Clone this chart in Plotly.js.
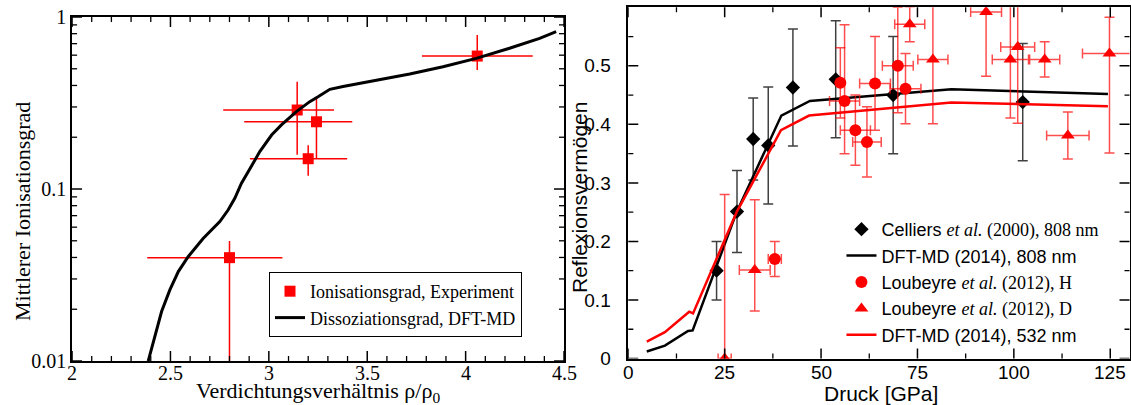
<!DOCTYPE html>
<html>
<head>
<meta charset="utf-8">
<script src="https://cdn.plot.ly/plotly-3.0.1.min.js"></script>
<style>html,body{margin:0;padding:0;background:#fff;}#chart{width:1131px;height:405px;}</style>
</head>
<body>
<div id="chart"></div>
<script>
// ---------- Left panel: ionisation / dissociation degree ----------
const ionX      = [2.80, 3.144, 3.200, 3.242, 4.059];
const ionY      = [0.0399, 0.288, 0.150, 0.246, 0.593];
const ionXMinus = [0.418, 0.376, 0.296, 0.367, 0.281];
const ionXPlus  = [0.269, 0.187, 0.198, 0.182, 0.282];
const ionYPlus  = [0.0100, 0.133, 0.0295, 0.098, 0.192];
const ionYMinus = [0.0396, 0.130, 0.0305, 0.095, 0.101];

const dissX = [2.387, 2.43, 2.455, 2.497, 2.54, 2.59, 2.666, 2.751, 2.793, 2.827, 2.861, 2.895, 2.954, 3.014, 3.064, 3.14, 3.208, 3.25, 3.31, 3.377, 3.513, 3.716, 3.885, 4.054, 4.223, 4.376, 4.46];
const dissY = [0.0100, 0.0155, 0.0194, 0.0259, 0.0331, 0.0404, 0.0516, 0.0646, 0.0755, 0.0883, 0.108, 0.126, 0.165, 0.206, 0.236, 0.282, 0.322, 0.344, 0.380, 0.394, 0.421, 0.466, 0.514, 0.575, 0.658, 0.752, 0.822];

// tick positions / labels (left panel)
const leftXTicks      = [2, 2.5, 3, 3.5, 4, 4.5];
const leftXTickText   = ['2', '2.5', '3', '3.5', '4', '4.5'];
const leftXMinorTicks = [2.1, 2.2, 2.3, 2.4, 2.6, 2.7, 2.8, 2.9, 3.1, 3.2, 3.3, 3.4, 3.6, 3.7, 3.8, 3.9, 4.1, 4.2, 4.3, 4.4];
const leftYTicks      = [0.01, 0.1, 1];
const leftYTickText   = ['0.01', '0.1', '1'];
const leftYMinorTicks = [0.02, 0.03, 0.04, 0.05, 0.06, 0.07, 0.08, 0.09, 0.2, 0.3, 0.4, 0.5, 0.6, 0.7, 0.8, 0.9];

// ---------- Right panel: reflectivity ----------
const cellP     = [22.9, 28.2, 32.4, 36.3, 42.7, 53.8, 68.7, 102.3];
const cellR     = [0.150, 0.251, 0.375, 0.364, 0.463, 0.477, 0.450, 0.438];
const cellRErr  = [0.05, 0.07, 0.07, 0.10, 0.10, 0.10, 0.10, 0.10];

const dft808P = [4.8, 9.5, 15.5, 16.7, 28.1, 39.7, 47.1, 83.8, 124.4];
const dft808R = [0.012, 0.022, 0.047, 0.048, 0.250, 0.415, 0.440, 0.460, 0.452];

const loubHP      = [38.0, 55.0, 56.1, 58.9, 61.9, 64.0, 69.9, 71.9];
const loubHR      = [0.170, 0.471, 0.440, 0.390, 0.370, 0.470, 0.500, 0.461];
const loubHRPlus  = [0.03, 0.06, 0.13, 0.06, 0.06, 0.08, 0.10, 0.06];
const loubHRMinus = [0.03, 0.06, 0.09, 0.06, 0.06, 0.08, 0.08, 0.06];
const loubHPErr   = [1.7, 0, 3.9, 3.9, 3.7, 4.0, 4.0, 4.0];

const loubDP      = [25.0, 32.8, 73.0, 79.0, 92.8, 99.1, 101.0, 108.0, 114.0, 124.8];
const loubDR      = [0.000, 0.151, 0.571, 0.511, 0.592, 0.511, 0.532, 0.511, 0.381, 0.521];
const loubDRPlus  = [0.28, 0.12, 0.03, 0.11, 0.11, 0.10, 0.13, 0.03, 0.04, 0.062];
const loubDRMinus = [0.00, 0.07, 0.03, 0.11, 0.11, 0.10, 0.13, 0.03, 0.04, 0.17];
const loubDPErr   = [1.7, 4.0, 3.9, 3.9, 4.0, 4.7, 4.4, 3.9, 5.5, 7.0];

const dft532P = [4.8, 9.5, 15.8, 16.8, 28.1, 39.6, 46.9, 83.8, 124.4];
const dft532R = [0.029, 0.045, 0.080, 0.077, 0.250, 0.390, 0.415, 0.4375, 0.431];

// tick positions / labels (right panel)
const rightXTicks      = [0, 25, 50, 75, 100, 125];
const rightXTickText   = ['0', '25', '50', '75', '100', '125'];
const rightXMinorTicks = [12.5, 37.5, 62.5, 87.5, 112.5];
const rightYTicks      = [0, 0.1, 0.2, 0.3, 0.4, 0.5];
const rightYTickText   = ['0', '0.1', '0.2', '0.3', '0.4', '0.5'];
const rightYMinorTicks = [0.05, 0.15, 0.25, 0.35, 0.45, 0.55];

const SERIF = 'Liberation Serif, Times New Roman, serif';
const SANS  = 'Liberation Sans, Arial, sans-serif';
const ERR_RED = 'rgba(255,0,0,0.7)';
const serifSpan = s => '<span style="font-family:Liberation Serif">' + s + '</span>';

const R_X1 = [2, 4.5], R_Y1 = [-2, 0], R_X2 = [0, 130], R_Y2 = [0, 0.6];
const X1_MIN = 2, X1_MAX = 4.5, Y1_MIN = 0.01, Y1_MAX = 1;
const X2_MIN = 0, X2_MAX = 130, Y2_MIN = 0, Y2_MAX = 0.6;

const traces = [
  {
    x: ionX, y: ionY, type: 'scatter', mode: 'markers',
    name: 'Ionisationsgrad, Experiment',
    xaxis: 'x', yaxis: 'y', legend: 'legend',
    marker: {symbol: 'square', size: 11, color: '#ff0000'},
    error_x: {type: 'data', symmetric: false, array: ionXPlus, arrayminus: ionXMinus, color: '#ff0000', thickness: 1.5, width: 0},
    error_y: {type: 'data', symmetric: false, array: ionYPlus, arrayminus: ionYMinus, color: '#ff0000', thickness: 1.5, width: 0}
  },
  {
    x: dissX, y: dissY, type: 'scatter', mode: 'lines',
    name: 'Dissoziationsgrad, DFT-MD',
    xaxis: 'x', yaxis: 'y', legend: 'legend',
    line: {color: '#000000', width: 3}
  },
  {
    x: cellP, y: cellR, type: 'scatter', mode: 'markers',
    name: 'Celliers ' + serifSpan('<i>et al.</i> (2000), 808 nm'),
    xaxis: 'x2', yaxis: 'y2', legend: 'legend2',
    marker: {symbol: 'diamond', size: 11, color: '#000000'},
    error_y: {type: 'data', array: cellRErr, color: 'rgba(0,0,0,0.75)', thickness: 1.5, width: 5}
  },
  {
    x: dft808P, y: dft808R, type: 'scatter', mode: 'lines',
    name: 'DFT-MD (2014), 808 nm',
    xaxis: 'x2', yaxis: 'y2', legend: 'legend2',
    line: {color: '#000000', width: 2.5}
  },
  {
    x: loubHP, y: loubHR, type: 'scatter', mode: 'markers',
    name: 'Loubeyre ' + serifSpan('<i>et al.</i> (2012), H'),
    xaxis: 'x2', yaxis: 'y2', legend: 'legend2',
    marker: {symbol: 'circle', size: 12, color: '#ff0000'},
    error_x: {type: 'data', array: loubHPErr, color: ERR_RED, thickness: 1.5, width: 5},
    error_y: {type: 'data', symmetric: false, array: loubHRPlus, arrayminus: loubHRMinus, color: ERR_RED, thickness: 1.5, width: 5}
  },
  {
    x: loubDP, y: loubDR, type: 'scatter', mode: 'markers',
    name: 'Loubeyre ' + serifSpan('<i>et al.</i> (2012), D'),
    xaxis: 'x2', yaxis: 'y2', legend: 'legend2',
    marker: {symbol: 'triangle-up', size: 12, color: '#ff0000'},
    error_x: {type: 'data', array: loubDPErr, color: ERR_RED, thickness: 1.5, width: 5},
    error_y: {type: 'data', symmetric: false, array: loubDRPlus, arrayminus: loubDRMinus, color: ERR_RED, thickness: 1.5, width: 5}
  },
  {
    x: dft532P, y: dft532R, type: 'scatter', mode: 'lines',
    name: 'DFT-MD (2014), 532 nm',
    xaxis: 'x2', yaxis: 'y2', legend: 'legend2',
    line: {color: '#ff0000', width: 2.5}
  }
];

// Inside tick marks: line markers centred on the frame edges; the subplot clip
// keeps only the half that lies inside the plot area.
const MAJOR_SIZE = 14.3, MINOR_SIZE = 7.2;   // half-length 0.7*size -> 10 px / 5 px
function xTicks(xa, ya, vals, yLo, yHi, size, w) {
  return {
    x: vals.concat(vals), y: vals.map(() => yLo).concat(vals.map(() => yHi)),
    type: 'scatter', mode: 'markers', xaxis: xa, yaxis: ya, showlegend: false, hoverinfo: 'skip', cliponaxis: true,
    marker: {symbol: 'line-ns', size: size, color: '#000', line: {color: '#000', width: w}}
  };
}
function yTicks(xa, ya, vals, xLo, xHi, size, w) {
  return {
    x: vals.map(() => xLo).concat(vals.map(() => xHi)), y: vals.concat(vals),
    type: 'scatter', mode: 'markers', xaxis: xa, yaxis: ya, showlegend: false, hoverinfo: 'skip', cliponaxis: true,
    marker: {symbol: 'line-ew', size: size, color: '#000', line: {color: '#000', width: w}}
  };
}
traces.push(
  xTicks('x', 'y', leftXTicks, Y1_MIN, Y1_MAX, MAJOR_SIZE, 1.5),
  xTicks('x', 'y', leftXMinorTicks, Y1_MIN, Y1_MAX, MINOR_SIZE, 1.3),
  yTicks('x', 'y', leftYTicks, X1_MIN, X1_MAX, MAJOR_SIZE, 1.5),
  yTicks('x', 'y', leftYMinorTicks, X1_MIN, X1_MAX, MINOR_SIZE, 1.3),
  xTicks('x2', 'y2', rightXTicks, Y2_MIN, Y2_MAX, MAJOR_SIZE, 1.5),
  xTicks('x2', 'y2', rightXMinorTicks, Y2_MIN, Y2_MAX, MINOR_SIZE, 1.3),
  yTicks('x2', 'y2', rightYTicks, X2_MIN, X2_MAX, MAJOR_SIZE, 1.5),
  yTicks('x2', 'y2', rightYMinorTicks, X2_MIN, X2_MAX, MINOR_SIZE, 1.3)
);

const D_X1 = [0.0637, 0.4987], D_Y1 = [0.1086, 0.958];
const D_X2 = [0.5555, 0.9987], D_Y2 = [0.1148, 0.982];

function mainAxis(opts) {
  return Object.assign({
    showline: true, linecolor: '#000000', linewidth: 1.5, mirror: true,
    ticks: '', tickmode: 'array', showgrid: false, zeroline: false, fixedrange: true
  }, opts);
}

// x tick labels placed through the axes' scales
const tickLabelAnns = [];
leftXTicks.forEach((v, i) => tickLabelAnns.push({
  text: leftXTickText[i], xref: 'x', yref: 'paper', x: v, y: 1 - 373 / 405,
  xanchor: 'center', yanchor: 'middle', showarrow: false, font: {family: SERIF, size: 20, color: '#000'}
}));
rightXTicks.forEach((v, i) => tickLabelAnns.push({
  text: rightXTickText[i], xref: 'x2', yref: 'paper', x: v, y: 1 - 372 / 405,
  xanchor: 'center', yanchor: 'middle', showarrow: false, font: {family: SANS, size: 19, color: '#000'}
}));

const layout = {
  width: 1131, height: 405,
  margin: {l: 0, r: 0, t: 0, b: 0, pad: 0},
  paper_bgcolor: '#ffffff', plot_bgcolor: 'rgba(0,0,0,0)',
  showlegend: true,
  xaxis: mainAxis({domain: D_X1, range: R_X1, anchor: 'y', tickvals: leftXTicks, ticktext: leftXTickText, showticklabels: false}),
  yaxis: mainAxis({domain: D_Y1, type: 'log', range: R_Y1, anchor: 'x', tickvals: leftYTicks, ticktext: leftYTickText,
    tickfont: {family: SERIF, size: 20, color: '#000'}}),
  xaxis2: mainAxis({domain: D_X2, range: R_X2, anchor: 'y2', tickvals: rightXTicks, ticktext: rightXTickText, showticklabels: false}),
  yaxis2: mainAxis({domain: D_Y2, range: R_Y2, anchor: 'x2', tickvals: rightYTicks, ticktext: rightYTickText,
    tickfont: {family: SANS, size: 19, color: '#000'}, ticklabelstandoff: 12}),
  annotations: tickLabelAnns.concat([
    {text: 'Verdichtungsverhältnis ρ/ρ<sub>0</sub>', xref: 'paper', yref: 'paper', x: 318 / 1131, y: 1 - 392 / 405,
     xanchor: 'center', yanchor: 'middle', showarrow: false, font: {family: SERIF, size: 22, color: '#000'}},
    {text: 'Mittlerer Ionisationsgrad', xref: 'paper', yref: 'paper', x: 22 / 1131, y: 1 - 212 / 405, textangle: -90,
     xanchor: 'center', yanchor: 'middle', showarrow: false, font: {family: SERIF, size: 22, color: '#000'}},
    {text: 'Druck [GPa]', xref: 'paper', yref: 'paper', x: 881 / 1131, y: 1 - 393 / 405,
     xanchor: 'center', yanchor: 'middle', showarrow: false, font: {family: SANS, size: 21, color: '#000'}},
    {text: 'Reflexionsvermögen', xref: 'paper', yref: 'paper', x: 579 / 1131, y: 1 - 198 / 405, textangle: -90,
     xanchor: 'center', yanchor: 'middle', showarrow: false, font: {family: SANS, size: 21, color: '#000'}}
  ]),
  legend: {
    x: 269 / 1131, y: 1 - 272 / 405, xanchor: 'left', yanchor: 'top',
    bgcolor: '#ffffff', bordercolor: '#000000', borderwidth: 1,
    font: {family: SERIF, size: 18, color: '#000'},
    tracegroupgap: 0, itemwidth: 30
  },
  legend2: {
    x: 0.744, y: 1 - 211 / 405, xanchor: 'left', yanchor: 'top',
    bgcolor: 'rgba(0,0,0,0)', borderwidth: 0,
    font: {family: SANS, size: 18, color: '#000'},
    tracegroupgap: 0, itemwidth: 30
  }
};

Plotly.newPlot('chart', traces, layout, {displayModeBar: false});
</script>
</body>
</html>
